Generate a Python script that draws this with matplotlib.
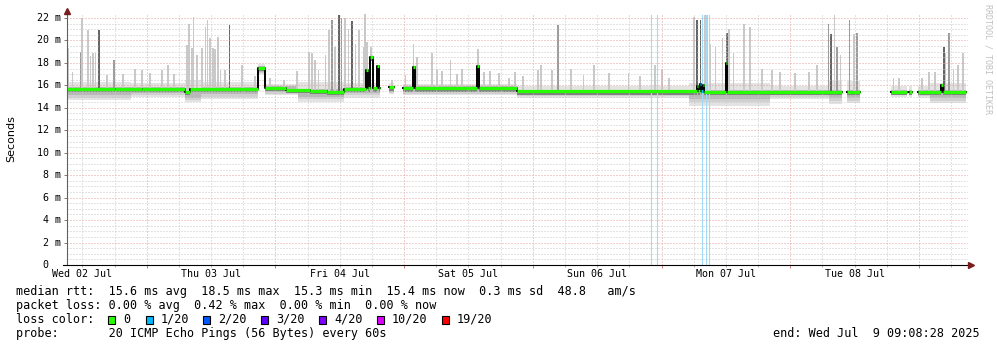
from datetime import datetime, timedelta

import matplotlib
import matplotlib.pyplot as plt
import matplotlib.transforms as mtransforms
import numpy as np
from matplotlib.patches import Rectangle

matplotlib.use("Agg")

W, H = 997, 347
MONO = "DejaVu Sans Mono"
START = datetime(2025, 7, 2, 9, 8, 28)
SPAN_H = 168.0
PX_PER_MS = 247 / 22

nan = np.nan

day_labels = ["Wed 02 Jul", "Thu 03 Jul", "Fri 04 Jul", "Sat 05 Jul",
              "Sun 06 Jul", "Mon 07 Jul", "Tue 08 Jul"]

# median rtt steps (hours since start, ms); nan = no data
med_t = [0.0, 9.0, 14.0, 22.0, 22.9, 35.6, 36.9, 40.8, 45.3, 48.5, 51.7,
         55.7, 56.1, 56.5, 57.1, 57.8, 58.2, 58.4, 60.0, 61.0, 62.7, 64.6,
         64.9, 76.4, 76.8, 83.9, 117.4, 117.6, 118.0, 118.2, 118.6, 118.8,
         122.8, 123.0, 144.5, 145.4, 147.9, 153.6, 156.6, 157.0, 157.6,
         158.7, 163.0, 163.3]
med_v = [15.72, 15.69, 15.72, 15.42, 15.68, 17.55, 15.78, 15.62, 15.50, 15.45,
         15.72, 17.4, 15.75, 18.5, 15.75, 17.7, 15.75, nan, 15.82, nan, 15.75,
         17.6, 15.75, 17.7, 15.75, 15.48, 15.9, 15.48, 16.1, 15.5, 16.0, 15.42,
         18.0, 15.42, nan, 15.4, nan, 15.45, nan, 15.45, nan, 15.45, 16.0, 15.42]
med_loss = [0] * 28 + [1, 1] + [0] * 14
med_end = 167.6

# smoke envelope per period
band_t = [0, 12, 22, 25, 35.6, 36.9, 43, 51.7, 58.4, 60.0, 61.0, 62.7, 83.9,
          116, 131, 142, 144.5, 145.4, 147.9, 153.6, 156.6, 157.0, 157.6,
          158.7, 161]
band_hi = [16.3, 16.2, 16.5, 16.3, 17.9, 16.1, 16.3, 16.2, nan, 16.2, nan, 16.1,
           15.9, 16.2, 15.9, 16.4, nan, 16.4, nan, 15.9, nan, 15.9, nan, 15.9, 16.2]
band_lo = [14.7, 15.0, 14.5, 14.8, 17.0, 15.1, 14.5, 14.9, nan, 15.2, nan, 15.1,
           14.9, 14.2, 14.8, 14.3, nan, 14.4, nan, 15.0, nan, 15.0, nan, 14.9, 14.4]
band_dlo = [15.1, 15.3, 14.9, 15.2, 17.2, 15.4, 15.0, 15.3, nan, 15.4, nan, 15.4,
            15.2, 14.8, 15.1, 14.9, nan, 14.9, nan, 15.2, nan, 15.2, nan, 15.2, 14.9]
band_dhi = [15.85, 15.85, 15.8, 15.85, 17.7, 15.9, 15.65, 15.85, nan, 15.95, nan, 15.9,
            15.6, 15.6, 15.6, 15.6, nan, 15.6, nan, 15.6, nan, 15.6, nan, 15.6, 15.6]

# individual smoke spikes: time (h), top (ms), shade 0 light / 1 mid / 2 dark
spike_t = [0.2, 1.0, 2.5, 2.8, 3.9, 4.4, 4.8, 5.3, 6.0, 7.5, 8.7, 10.5, 12.7,
           14.0, 15.5, 17.7, 18.8, 20.0, 22.4, 22.7, 23.3, 23.6, 24.2, 25.2,
           25.8, 26.2, 26.7, 27.2, 27.6, 28.1, 28.6, 29.5, 30.3, 32.6, 35.1,
           37.9, 40.4, 42.9, 45.1, 45.7, 46.3, 46.9, 48.2, 48.8, 49.4, 50.0,
           50.7, 51.2, 51.8, 52.5, 53.1, 53.8, 54.4, 55.3, 55.5, 55.9, 56.7,
           58.1, 60.6, 63.1, 64.6, 65.3, 68.1, 69.0, 69.9, 71.5, 72.7, 73.7,
           76.6, 77.7, 78.9, 80.5, 82.4, 83.6, 85.0, 87.8, 88.4, 90.4, 91.6,
           94.0, 96.3, 98.2, 101.0, 104.7, 106.9, 109.7, 110.9, 112.2, 116.9,
           117.5, 118.1, 118.5, 118.9, 119.3, 120.0, 120.9, 122.2, 123.1, 123.4,
           124.3, 126.2, 127.4, 129.6, 131.5, 133.0, 135.8, 138.3, 139.8, 142.0,
           142.5, 143.1, 143.6, 144.2, 145.9, 146.7, 147.3, 154.1, 155.1, 159.4,
           160.7, 161.9, 163.5, 163.8, 164.5, 165.3, 166.2, 167.1]
spike_top = [19.3, 17.2, 19.0, 22.0, 20.9, 18.6, 18.9, 18.9, 20.9, 16.9, 18.3,
             17.0, 17.5, 17.4, 17.1, 17.4, 17.8, 17.0, 19.6, 21.5, 19.3, 22.1,
             18.7, 19.3, 21.2, 21.8, 20.2, 19.3, 19.2, 20.3, 17.4, 17.4, 21.4,
             17.8, 16.8, 16.7, 16.5, 17.3, 19.0, 18.9, 18.3, 17.4, 18.7, 20.9,
             21.8, 19.4, 22.3, 22.0, 22.0, 21.0, 21.7, 19.7, 20.9, 19.4, 22.4,
             19.9, 19.4, 17.8, 16.5, 16.9, 19.7, 18.5, 18.9, 17.5, 17.3, 18.3,
             17.0, 17.5, 19.2, 17.2, 17.3, 17.1, 16.7, 17.2, 16.8, 17.4, 17.8,
             17.4, 21.4, 17.5, 16.9, 17.8, 17.1, 17.1, 16.8, 17.8, 17.5, 16.7,
             22.1, 21.8, 21.8, 22.3, 22.3, 22.3, 19.7, 19.4, 20.2, 20.7, 21.0,
             18.9, 21.5, 21.2, 17.5, 17.4, 17.2, 17.1, 17.2, 17.8, 21.5, 20.6,
             22.3, 19.4, 18.7, 21.8, 20.6, 20.7, 16.7, 16.7, 16.7, 17.2, 17.2,
             19.4, 18.9, 20.7, 17.5, 17.8, 18.9]
spike_shade = [0, 0, 1, 0, 0, 0, 0, 0, 2, 0, 1, 0, 0, 0, 0, 0, 0, 0, 0, 0, 0, 0,
               0, 0, 0, 0, 0, 0, 0, 0, 0, 0, 2, 0, 0, 0, 0, 0, 0, 0, 0, 0, 0, 0,
               1, 0, 2, 1, 0, 0, 2, 0, 0, 0, 0, 0, 0, 0, 0, 0, 0, 0, 0, 0, 0, 0,
               0, 0, 0, 0, 0, 0, 0, 0, 0, 0, 0, 0, 1, 0, 0, 0, 0, 0, 0, 0, 0, 0,
               0, 2, 2, 0, 0, 0, 0, 0, 0, 2, 0, 0, 0, 0, 0, 0, 0, 0, 0, 0, 1, 2,
               0, 1, 0, 1, 0, 1, 0, 0, 0, 0, 0, 2, 0, 1, 0, 0, 0]

# full-height loss markers (h)
loss_mark_t = [108.9, 110.1, 118.4, 119.1, 119.7]

loss_labels = ["0", "1/20", "2/20", "3/20", "4/20", "10/20", "19/20"]
loss_colors = ["#26ff00", "#00b8ff", "#0059ff", "#5e00ff", "#7e00ff", "#dd00ff", "#ff0000"]
loss_color_of = {0: loss_colors[0], 1: loss_colors[1]}

legend_lines = [
    "median rtt:  15.6 ms avg  18.5 ms max  15.3 ms min  15.4 ms now  0.3 ms sd  48.8   am/s",
    "packet loss: 0.00 % avg  0.42 % max  0.00 % min  0.00 % now",
    "loss color:",
    "probe:       20 ICMP Echo Pings (56 Bytes) every 60s",
]
end_text = "end: Wed Jul  9 09:08:28 2025"


def fx(x):
    return x / W


def fy(y):
    return 1 - y / H


fig = plt.figure(figsize=(W / 100, H / 100), dpi=100)
fig.patch.set_facecolor("white")
ax = fig.add_axes([fx(67), fy(265), 901 / W, 252 / H])
ytop = 252 / PX_PER_MS
ax.set_xlim(0, SPAN_H)
ax.set_ylim(0, ytop)
for s in ax.spines.values():
    s.set_visible(False)

# smoke layers, lighter further from the median
b_edges = np.array(band_t + [med_end])
b_w = np.diff(b_edges)
b_t = b_edges[:-1]
hi, lo = np.array(band_hi), np.array(band_lo)
dhi, dlo = np.array(band_dhi), np.array(band_dlo)
ax.bar(b_t, hi - lo, bottom=lo, width=b_w, align="edge", color="#e3e3e3", lw=0, zorder=1)
mid_lo = (lo + dlo) / 2
ax.bar(b_t, dhi - mid_lo, bottom=mid_lo, width=b_w, align="edge", color="#d0d0d0", lw=0, zorder=1.05)
ax.bar(b_t, dhi - dlo, bottom=dlo, width=b_w, align="edge", color="#b8b8b8", lw=0, zorder=1.1)

# spikes start at the median of their step
m_edges = np.array(med_t + [med_end])
m_t = m_edges[:-1]
m_w = np.diff(m_edges)
mv = np.array(med_v)
st = np.array(spike_t)
mi = np.searchsorted(m_t, st, side="right") - 1
base = np.where(np.isnan(mv[mi]), 15.5, mv[mi]) - 0.1
shade_cols = {0: "#c9c9c9", 1: "#9c9c9c", 2: "#666666"}
cols = [shade_cols[s] for s in spike_shade]
ax.bar(st, np.array(spike_top) - base, bottom=base, width=0.32, color=cols, lw=0, zorder=1.2)

# dark smoke just under the median
ax.bar(m_t, np.full(len(mv), 0.3), bottom=mv - 0.3, width=m_w, align="edge",
       color="#808080", lw=0, zorder=1.3)

for t in loss_mark_t:
    ax.axvline(t, ymin=0, ymax=22.3 / ytop, color="#a3dcf4", lw=0.8, zorder=1.4)

# grid
midnights = [(datetime(2025, 7, 3) + timedelta(days=i) - START).total_seconds() / 3600
             for i in range(7)]
six_h = [(datetime(2025, 7, 2, 12) + timedelta(hours=6 * i) - START).total_seconds() / 3600
         for i in range(28)]
six_h = [h for h in six_h if h < SPAN_H]
ax.set_xticks(midnights)
ax.set_xticks(six_h, minor=True)
ax.set_yticks(range(0, 23, 2))
ax.set_yticks(np.arange(0, 22.01, 0.5), minor=True)
ax.set_axisbelow(False)
ax.grid(which="major", color="#e6a0a0", linestyle=(0, (1, 2)), linewidth=0.72, zorder=1.5)
ax.grid(which="minor", color="#c8c8c8", linestyle=(0, (1, 2)), linewidth=0.72, zorder=1.5)
ax.tick_params(axis="x", which="major", direction="out", length=2.2, width=0.72,
               color="#d08080", labelbottom=False)
ax.tick_params(axis="x", which="minor", direction="out", length=1.5, width=0.72,
               color="#b0b0b0")
ax.tick_params(axis="y", which="major", direction="out", length=2.2, width=0.72,
               color="#808080", labelleft=False)
ax.tick_params(axis="y", which="minor", length=0)

# median line: black steps + coloured levels
ax.step(m_edges, np.append(mv, mv[-1]), where="post", color="black", lw=1.4, zorder=3)
ok = ~np.isnan(mv)
ax.hlines(mv[ok], m_t[ok], m_edges[1:][ok],
          colors=[loss_color_of[l] for l, k in zip(med_loss, ok) if k],
          lw=2.3, zorder=3.5, capstyle="butt")

# axes lines and arrows
ax.plot([0, 0], [0, 1], transform=ax.transAxes, color="#606060", lw=0.8,
        clip_on=False, zorder=4)
ax.plot([-4 / 901, 1 + 3 / 901], [0, 0], transform=ax.transAxes, color="black",
        lw=0.8, clip_on=False, zorder=4)
ax.plot([1 + 3 / 901], [0], transform=ax.transAxes, marker=">", ms=4,
        color="#7b1c1c", clip_on=False, zorder=5)
ax.plot([0], [1 + 2 / 252], transform=ax.transAxes, marker="^", ms=4,
        color="#7b1c1c", clip_on=False, zorder=5)

# tick labels
ytr = mtransforms.blended_transform_factory(fig.transFigure, ax.transData)
for v in range(0, 23, 2):
    if v == 0:
        ax.text(fx(48), v, "0", transform=ytr, ha="right", va="center",
                fontsize=7.2, family=MONO)
    else:
        ax.text(fx(61), v, f"{v} m", transform=ytr, ha="right", va="center",
                fontsize=7.2, family=MONO)

xtr = mtransforms.blended_transform_factory(ax.transData, fig.transFigure)
for i, lab in enumerate(day_labels):
    h = (datetime(2025, 7, 2, 12) + timedelta(days=i) - START).total_seconds() / 3600
    ax.text(h, fy(274), lab, transform=xtr, ha="center", va="center",
            fontsize=7.2, family=MONO)

fig.text(fx(11), fy(139), "Seconds", rotation=90, ha="center", va="center",
         fontsize=8, family="DejaVu Sans")
fig.text(fx(987.5), fy(4), "RRDTOOL / TOBI OETIKER", rotation=270, ha="center",
         va="top", fontsize=6, family=MONO, color="#c0c0c0")

# legend
for line, y in zip(legend_lines, [291, 305, 319.5, 333.5]):
    fig.text(fx(16), fy(y), line, ha="left", va="center", fontsize=8.5, family=MONO)
fig.text(fx(980), fy(333.5), end_text, ha="right", va="center", fontsize=8.5, family=MONO)

box_x = [108, 146, 203, 261, 319, 377, 442]
for bx, lab, c in zip(box_x, loss_labels, loss_colors):
    fig.add_artist(Rectangle((fx(bx), fy(323.5)), 7 / W, 8 / H, transform=fig.transFigure,
                             facecolor=c, edgecolor="black", lw=0.8))
    fig.text(fx(bx + 15), fy(319.5), lab, ha="left", va="center", fontsize=8.5, family=MONO)

fig.savefig("out.png", dpi=100)
plt.close(fig)
